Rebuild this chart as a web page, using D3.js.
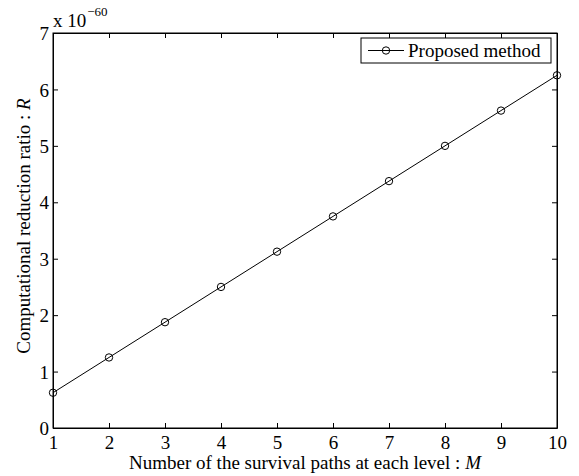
<!DOCTYPE html>
<html>
<head>
<meta charset="utf-8">
<script src="https://cdn.jsdelivr.net/npm/d3@7"></script>
<style>
  html, body { margin: 0; padding: 0; background: #fff; }
  svg text { font-family: "Liberation Serif", "Times New Roman", serif !important; fill: #000; }
</style>
</head>
<body>
<svg id="chart" width="579" height="476"></svg>
<script>
// Number of survival paths kept at each level
const pathsM = [1, 2, 3, 4, 5, 6, 7, 8, 9, 10];
// Computational reduction ratio R, in units of 1e-60
const ratioR = [0.625, 1.25, 1.875, 2.5, 3.125, 3.75, 4.375, 5.0, 5.625, 6.25];
const xTicks = [1, 2, 3, 4, 5, 6, 7, 8, 9, 10];
const yTicks = [0, 1, 2, 3, 4, 5, 6, 7];
const seriesName = "Proposed method";

const svg = d3.select("#chart");
const margin = { left: 53, right: 22, top: 33, bottom: 48 };
const W = 579, H = 476;
const iw = W - margin.left - margin.right;
const ih = H - margin.top - margin.bottom;

const x = d3.scaleLinear().domain([1, 10]).range([margin.left, margin.left + iw]);
const y = d3.scaleLinear().domain([0, 7]).range([margin.top + ih, margin.top]);

const tickLen = 5;
const tickFont = 19;
const titleFont = 19;

// bottom axis with inward ticks
const gx = svg.append("g").attr("transform", `translate(0,${margin.top + ih})`)
  .call(d3.axisBottom(x).tickValues(xTicks).tickFormat(d3.format("d"))
    .tickSizeInner(-tickLen).tickSizeOuter(0).tickPadding(0));
// top axis (ticks only)
const gxt = svg.append("g").attr("transform", `translate(0,${margin.top})`)
  .call(d3.axisTop(x).tickValues(xTicks).tickFormat("")
    .tickSizeInner(-tickLen).tickSizeOuter(0));
// left axis
const gy = svg.append("g").attr("transform", `translate(${margin.left},0)`)
  .call(d3.axisLeft(y).tickValues(yTicks).tickFormat(d3.format("d"))
    .tickSizeInner(-tickLen).tickSizeOuter(0).tickPadding(4));
// right axis (ticks only)
const gyr = svg.append("g").attr("transform", `translate(${margin.left + iw},0)`)
  .call(d3.axisRight(y).tickValues(yTicks).tickFormat("")
    .tickSizeInner(-tickLen).tickSizeOuter(0));

[gx, gxt, gy, gyr].forEach(g => {
  g.attr("font-family", null).attr("font-size", null);
  g.select(".domain").attr("stroke", "#000").attr("stroke-width", 1);
  g.selectAll(".tick line").attr("stroke", "#000").attr("stroke-width", 1);
  g.selectAll(".tick text").style("font-size", tickFont + "px").attr("fill", "#000");
});
gx.selectAll(".tick text").attr("y", 0).attr("dy", null)
  .attr("transform", "translate(0,21)");
gy.selectAll(".tick text").attr("dy", "0.35em");

// frame
svg.append("rect")
  .attr("x", margin.left).attr("y", margin.top)
  .attr("width", iw).attr("height", ih)
  .attr("fill", "none").attr("stroke", "#000").attr("stroke-width", 1);

// line + markers
const pts = pathsM.map((m, i) => [m, ratioR[i]]);
svg.append("path")
  .datum(pts)
  .attr("fill", "none").attr("stroke", "#000").attr("stroke-width", 1)
  .attr("d", d3.line().x(d => x(d[0])).y(d => y(d[1])));
svg.append("g").selectAll("circle").data(pts).join("circle")
  .attr("cx", d => x(d[0])).attr("cy", d => y(d[1])).attr("r", 3.7)
  .attr("fill", "none").attr("stroke", "#000").attr("stroke-width", 1);

// exponent label
const expo = svg.append("text").attr("x", margin.left).attr("y", 27)
  .style("font-size", "19px");
expo.append("tspan").text("x 10");
expo.append("tspan").style("font-size", "13px").attr("dx", 1).attr("dy", -11).text("\u221260");

// axis titles
const xt = svg.append("text")
  .attr("x", margin.left + iw / 2).attr("y", 469)
  .attr("text-anchor", "middle").style("font-size", titleFont + "px");
xt.append("tspan").text("Number of the survival paths at each level : ");
xt.append("tspan").attr("font-style", "italic").text("M");

const yt = svg.append("text")
  .attr("transform", `translate(30,226) rotate(-90)`)
  .attr("text-anchor", "middle").style("font-size", titleFont + "px");
yt.append("tspan").text("Computational reduction ratio : ");
yt.append("tspan").attr("font-style", "italic").text("R");

// legend
const lg = svg.append("g");
const lx = 361, ly = 38, lw = 190, lh = 25;
lg.append("rect").attr("x", lx).attr("y", ly).attr("width", lw).attr("height", lh)
  .attr("fill", "#fff").attr("stroke", "#000").attr("stroke-width", 1);
lg.append("line").attr("x1", lx + 7).attr("x2", lx + 43)
  .attr("y1", ly + lh / 2).attr("y2", ly + lh / 2)
  .attr("stroke", "#000").attr("stroke-width", 1);
lg.append("circle").attr("cx", lx + 25).attr("cy", ly + lh / 2).attr("r", 3.7)
  .attr("fill", "none").attr("stroke", "#000");
lg.append("text").attr("x", lx + 47).attr("y", ly + lh / 2).attr("dy", "0.35em")
  .style("font-size", titleFont + "px").text(seriesName);
</script>
</body>
</html>
